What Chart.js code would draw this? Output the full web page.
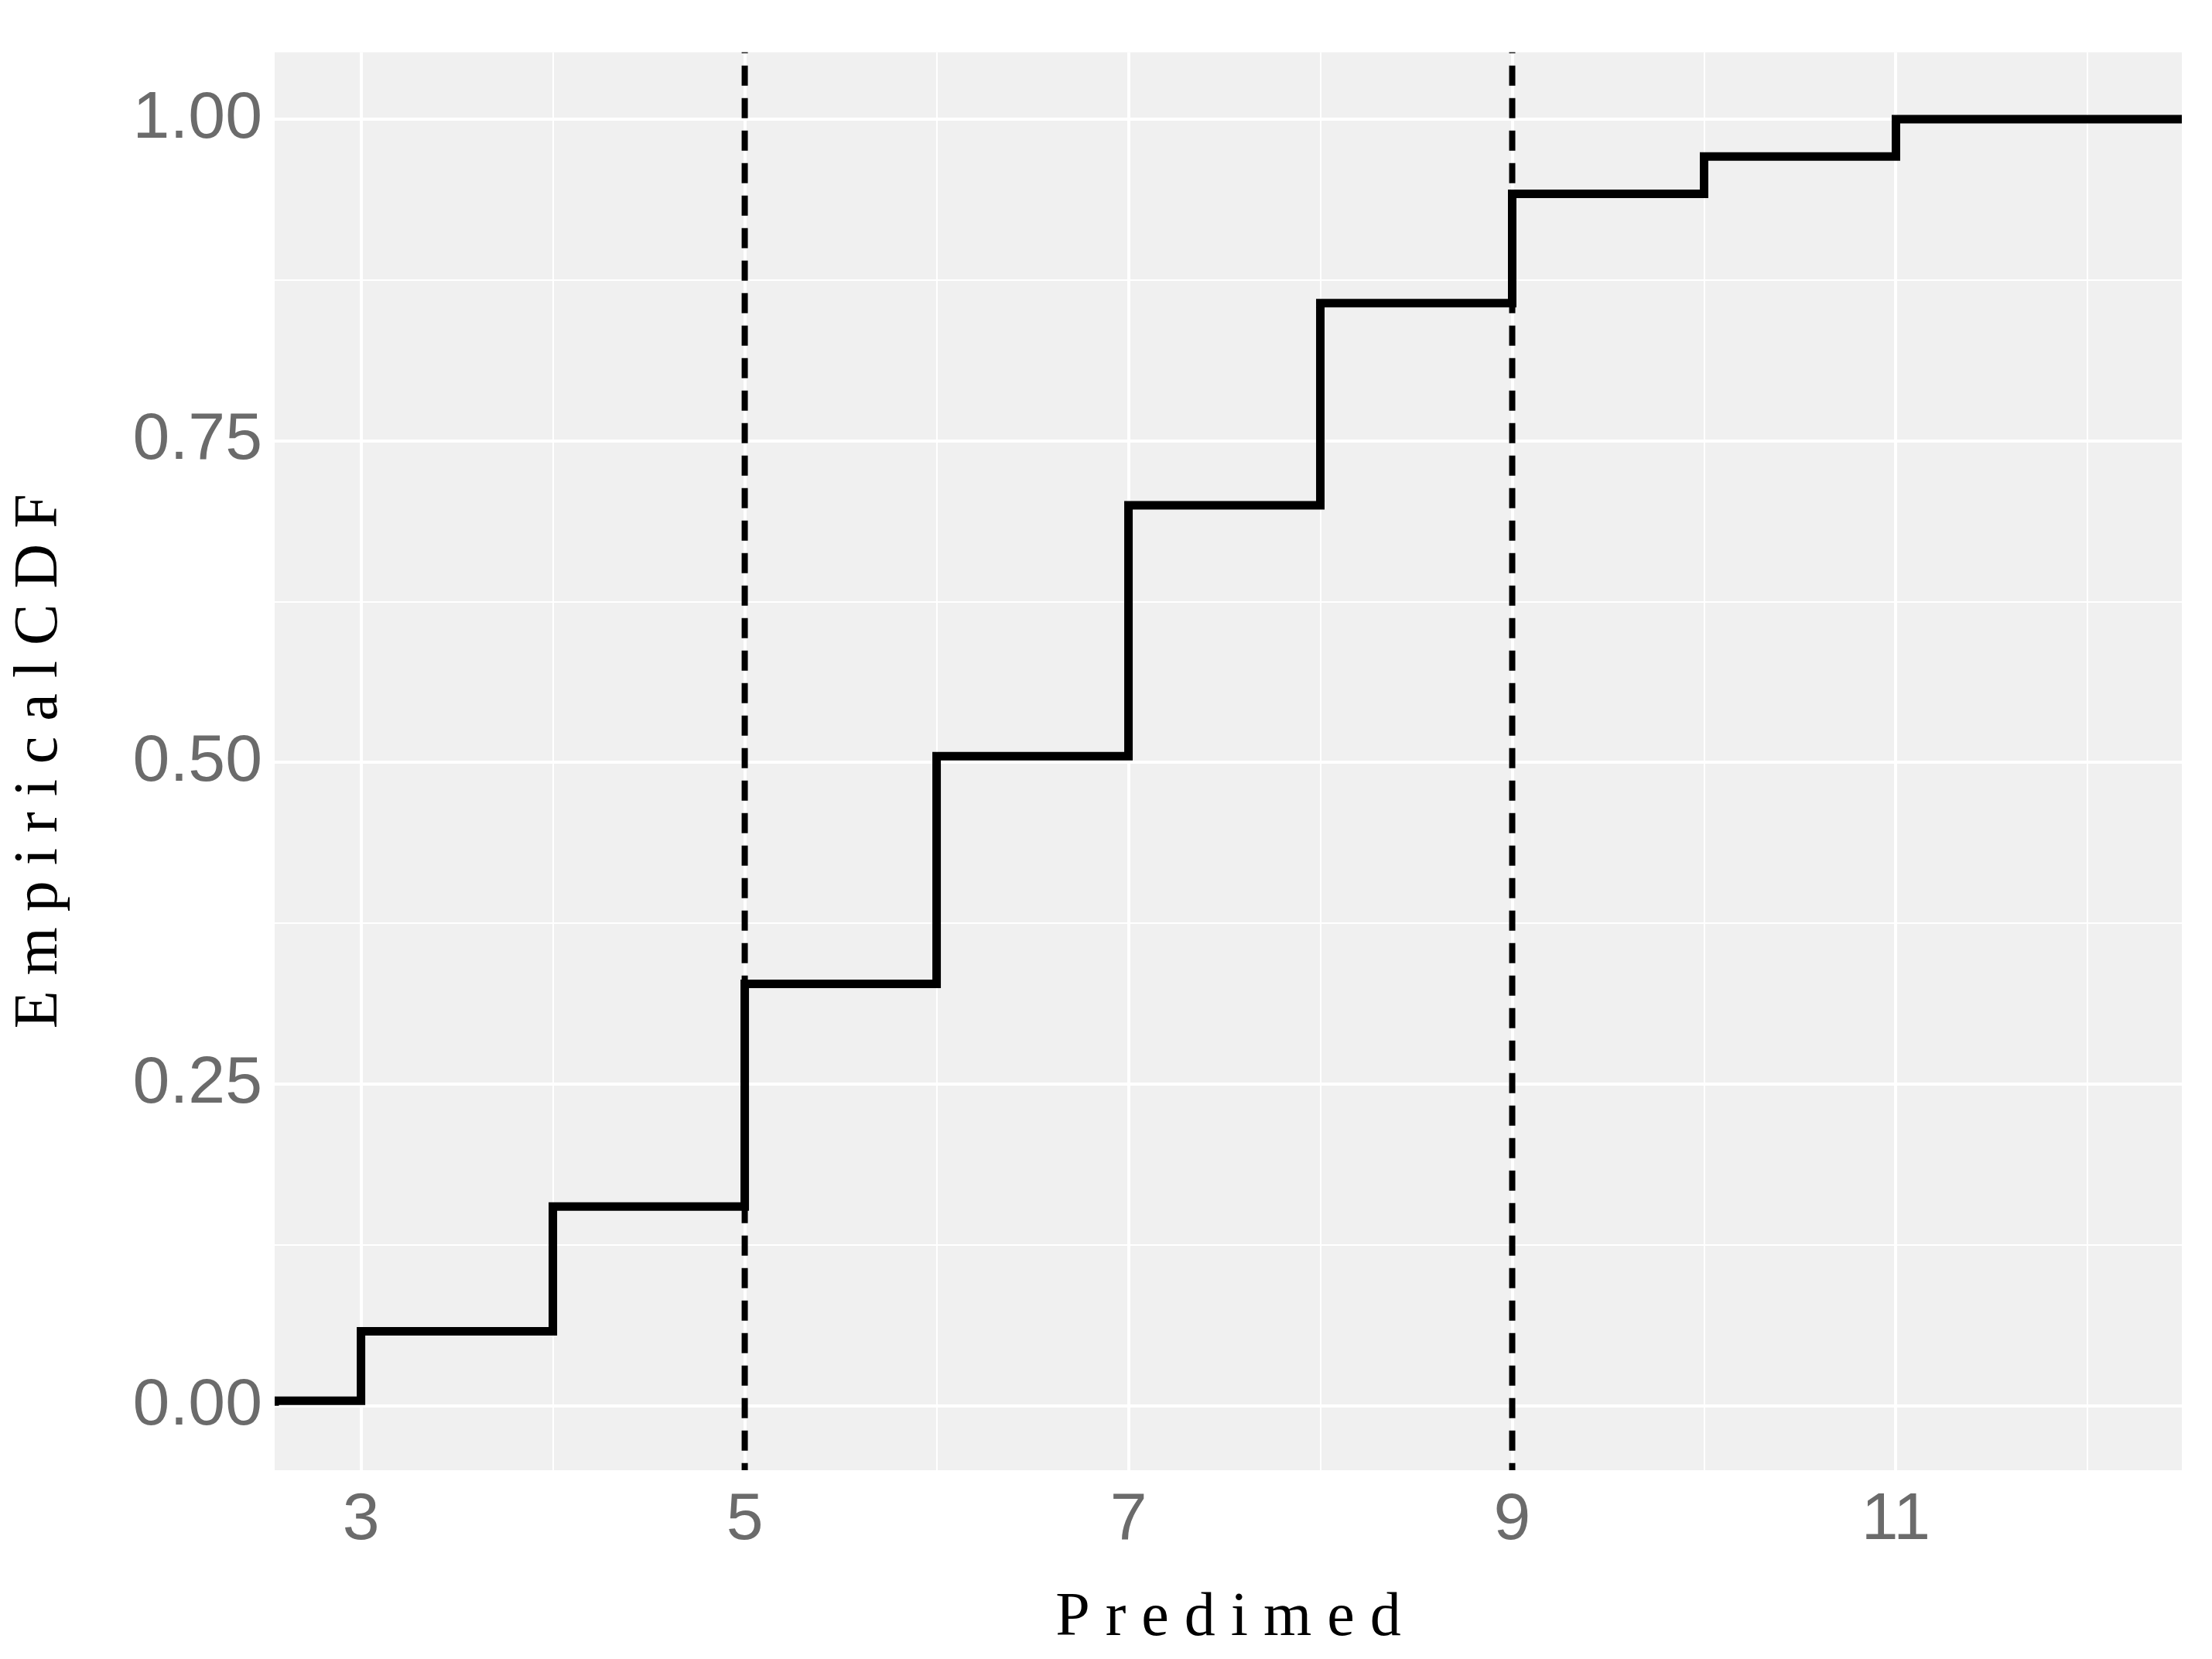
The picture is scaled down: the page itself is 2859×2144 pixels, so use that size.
<!DOCTYPE html>
<html>
<head>
<meta charset="utf-8">
<script src="https://cdn.jsdelivr.net/npm/chart.js@4"></script>
<style>
  html, body { margin: 0; padding: 0; background: #fff; }
</style>
</head>
<body>
<canvas id="ecdf" width="2859" height="2144"></canvas>
<script>
// step points of the empirical CDF
const stepX = [2.55, 3, 4, 5, 6, 7, 8, 9, 10, 11, 12, 12.49];
const stepY = [0, 0.004, 0.058, 0.155, 0.328, 0.505, 0.70, 0.857, 0.942, 0.971, 1.0, 1.0];
const cutoffs = [5, 9];
const xLabels = [3, 5, 7, 9, 11];
const yLabels = [0, 0.25, 0.5, 0.75, 1];

const panelBg = {
  id: "panelBg",
  beforeDraw(chart) {
    const { ctx, chartArea: a } = chart;
    ctx.save();
    ctx.fillStyle = "#f0f0f0";
    ctx.fillRect(a.left, a.top, a.right - a.left, a.bottom - a.top);
    ctx.restore();
  }
};

const datasets = [{
  data: stepX.map((x, i) => ({ x, y: stepY[i] })),
  stepped: "after",
  borderColor: "#000",
  borderWidth: 11,
  pointRadius: 0,
  order: 1
}];
cutoffs.forEach(c => datasets.push({
  data: [{ x: c, y: -0.06 }, { x: c, y: 1.06 }],
  borderColor: "#000",
  borderWidth: 8,
  borderDash: [26, 16],
  pointRadius: 0,
  order: 0
}));

const tickFont = { family: "Liberation Sans", size: 86 };

new Chart(document.getElementById("ecdf"), {
  type: "line",
  data: { datasets },
  plugins: [panelBg],
  options: {
    responsive: false,
    animation: false,
    devicePixelRatio: 1,
    layout: { padding: { top: 36, right: 39 } },
    plugins: { legend: { display: false }, tooltip: { enabled: false } },
    scales: {
      x: {
        type: "linear",
        min: 2.55,
        max: 12.49,
        afterFit: s => { s.height = 244; },
        afterBuildTicks: s => {
          s.ticks = [3, 4, 5, 6, 7, 8, 9, 10, 11, 12].map(v => ({ value: v }));
        },
        grid: {
          color: "#fff",
          lineWidth: c => (xLabels.includes(c.tick.value) ? 4 : 2),
          drawTicks: false
        },
        border: { display: false },
        ticks: {
          color: "#6b6b6b",
          font: tickFont,
          padding: 14,
          autoSkip: false,
          maxRotation: 0,
          callback: v => (xLabels.includes(v) ? String(v) : "")
        },
        title: {
          display: true,
          text: "P r e d i m e d",
          color: "#000",
          font: { family: "Liberation Serif", size: 80 },
          padding: { top: 0 }
        }
      },
      y: {
        type: "linear",
        min: -0.05,
        max: 1.052,
        afterFit: s => { s.width = 355; },
        afterBuildTicks: s => {
          s.ticks = [0, 0.125, 0.25, 0.375, 0.5, 0.625, 0.75, 0.875, 1].map(v => ({ value: v }));
        },
        grid: {
          color: "#fff",
          lineWidth: c => (yLabels.includes(c.tick.value) ? 4 : 2),
          drawTicks: false
        },
        border: { display: false },
        ticks: {
          color: "#6b6b6b",
          font: tickFont,
          padding: 16,
          autoSkip: false,
          callback: v => (yLabels.includes(v) ? v.toFixed(2) : "")
        },
        title: {
          display: true,
          text: "E m p i r i c a l C D F",
          color: "#000",
          font: { family: "Liberation Serif", size: 80 },
          padding: { bottom: 0 }
        }
      }
    }
  }
});
</script>
</body>
</html>
